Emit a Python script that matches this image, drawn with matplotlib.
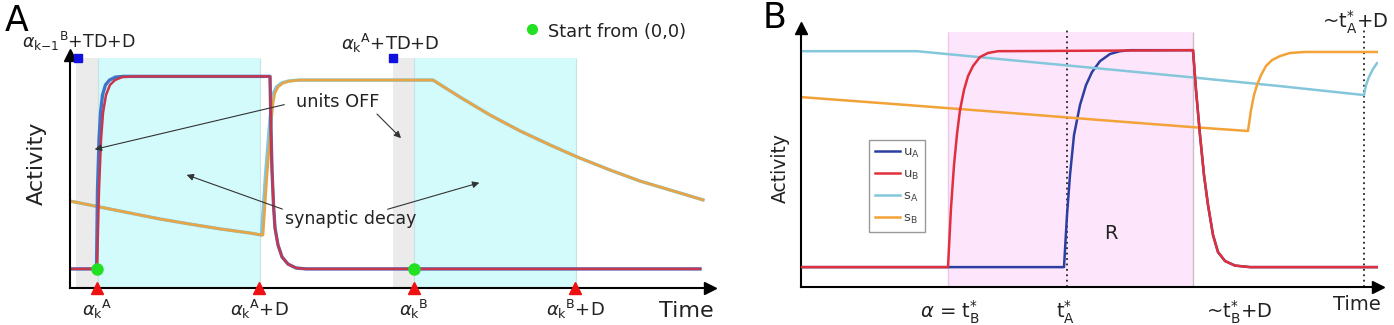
import matplotlib.pyplot as plt

plt.rcParams['font.family'] = ['DejaVu Sans']
plt.rcParams['mathtext.fontset'] = 'dejavusans'

# ---- panel A data (time in arbitrary units, activity 0..1) ----
a_red_t = [0, 27, 29, 31, 33, 36, 40, 45, 52, 65, 200, 201, 202, 203.5, 205, 208, 212, 218, 226, 236, 630]
a_red_y = [.083, .083, .426, .643, .761, .839, .883, .904, .917, .92, .92, .687, .513, .361, .261, .187,
           .135, .104, .087, .083, .083]
a_blue_t = [0, 26.5, 27.5, 29, 30.5, 32.5, 35.5, 39.5, 45.5, 53.5, 200, 201, 202, 203.5, 205, 208, 212, 218,
            226, 236, 630]
a_blue_y = a_red_y
a_orange_t = [0, 30, 60, 90, 120, 150, 180, 193, 195, 197, 199, 201, 203, 205, 208, 213, 220, 230,
              363, 390, 420, 450, 480, 507, 540, 570, 600, 633]
a_orange_y = [.378, .352, .326, .300, .278, .257, .239, .230, .361, .491, .600, .709, .804, .848, .874,
              .891, .900, .904, .904, .830, .752, .683, .622, .570, .513, .465, .426, .383]
a_cyan_t = [0, 30, 60, 90, 120, 150, 180, 191.5, 193.5, 195.5, 197.5, 199.5, 201.5, 203.5, 206.5, 211.5,
            218.5, 228.5, 363, 390, 420, 450, 480, 507, 540, 570, 600, 633]
a_cyan_y = a_orange_y

a_ticks = [27, 189, 344, 505]
a_tick_labels = [r'$\alpha_\mathrm{k}{}^\mathrm{A}$', r'$\alpha_\mathrm{k}{}^\mathrm{A}$+D',
                 r'$\alpha_\mathrm{k}{}^\mathrm{B}$', r'$\alpha_\mathrm{k}{}^\mathrm{B}$+D']
a_gray = [(6, 27.5), (323, 344)]
a_cyan_band = [(27.5, 190), (344, 506)]
a_start_t = [27, 344]
a_start_y = [.083, .083]
a_off_t = [8, 323]

# ---- panel B data ----
b_ua_t = [0, 263, 266, 269, 273, 279, 285, 291, 299, 309, 319, 329, 392, 395, 399, 403, 407, 412, 417,
          424, 434, 449, 576]
b_ua_y = [.078, .078, .282, .439, .596, .714, .792, .843, .886, .914, .925, .929, .929, .773, .596, .439,
          .322, .204, .137, .102, .084, .078, .078]
b_ub_t = [0, 147, 150, 153, 156, 159, 163, 167, 172, 179, 187, 197, 392, 395, 399, 403, 407, 412, 417,
          424, 434, 449, 576]
b_ub_y = [.078, .078, .310, .478, .600, .694, .773, .827, .867, .902, .918, .925, .929, .773, .596, .439,
          .322, .204, .137, .102, .084, .078, .078]
b_sa_t = [0, 116, 199, 299, 392, 479, 563, 565, 568, 572, 576]
b_sa_y = [.925, .925, .894, .857, .822, .788, .753, .792, .824, .855, .878]
b_sb_t = [0, 99, 199, 299, 392, 447, 450, 453, 456, 460, 465, 471, 479, 489, 504, 576]
b_sb_y = [.745, .716, .686, .655, .627, .612, .694, .753, .792, .831, .867, .890, .906, .918, .922, .922]

b_ticks = [149, 265, 438]
b_tick_labels = [r'$\alpha$ = t$_\mathrm{B}^{*}$', r't$_\mathrm{A}^{*}$', r'~t$_\mathrm{B}^{*}$+D']
b_band = (147, 392)
b_dotted = [266, 563]

txt = '#222222'

fig = plt.figure(figsize=(13.94, 3.25), dpi=100)
axA = fig.add_axes([70 / 1394, 37 / 325, 640 / 1394, 233 / 325])
axB = fig.add_axes([801 / 1394, 38 / 325, 577 / 1394, 259 / 325])

for ax in (axA, axB):
    for s in ('top', 'right'):
        ax.spines[s].set_visible(False)
    ax.spines['left'].set_linewidth(1.5)
    ax.spines['bottom'].set_linewidth(1.5)
    ax.set_yticks([])
    ax.tick_params(axis='x', length=0, colors=txt)
    ax.plot(1, 0, '>k', ms=8, transform=ax.transAxes, clip_on=False)
    ax.plot(0, 1, '^k', ms=8, transform=ax.transAxes, clip_on=False)

# ---------------- panel A ----------------
axA.set_xlim(0, 640)
axA.set_ylim(0, 1.013)
for a, b in a_gray:
    axA.fill_between([a, b], 0, 1.0, color='#ebebeb', lw=0)
for a, b in a_cyan_band:
    axA.fill_between([a, b], 0, 1.0, color='#d3fbfb', lw=0)
    axA.vlines([a, b], 0, 1.0, color='#c6e4e4', lw=0.8)

axA.plot(a_cyan_t, a_cyan_y, color='#7cc8e0', lw=2.4)
axA.plot(a_orange_t, a_orange_y, color='#e8a445', lw=1.9)
axA.plot(a_blue_t, a_blue_y, color='#3f74c8', lw=2.4)
axA.plot(a_red_t, a_red_y, color='#c8364e', lw=1.8)

axA.plot(a_start_t, a_start_y, 'o', color='#22e022', ms=8, zorder=5)
axA.plot(a_off_t, [1.0, 1.0], 's', color='#1010e0', ms=6, clip_on=False, zorder=5)
axA.plot(a_ticks, [0] * len(a_ticks), '^', color='#ee1111', ms=9, clip_on=False, zorder=5)

axA.set_xticks(a_ticks, a_tick_labels, fontsize=13)
axA.tick_params(axis='x', pad=7)
axA.set_ylabel('Activity', fontsize=16, color=txt)
axA.yaxis.set_label_coords(-0.036, 0.536)
axA.text(616, -0.1, 'Time', fontsize=16, color=txt, ha='center', va='center')

axA.text(9, 1.07, r'$\alpha_\mathrm{k{-}1}{}^\mathrm{B}$+TD+D', fontsize=12.5, color=txt, ha='center',
         va='center', clip_on=False)
axA.text(320, 1.065, r'$\alpha_\mathrm{k}{}^\mathrm{A}$+TD+D', fontsize=13, color=txt, ha='center',
         va='center', clip_on=False)
axA.plot(462, 1.126, 'o', color='#22e022', ms=7, clip_on=False)
axA.text(478, 1.113, 'Start from (0,0)', fontsize=12.8, color=txt, ha='left', va='center')

arr = dict(arrowstyle='-|>', color='#333333', lw=0.8, mutation_scale=10)
axA.text(226, .809, 'units OFF', fontsize=12.8, color=txt, ha='left', va='center')
axA.annotate('', xy=(22, .6), xytext=(217, .8), arrowprops=arr)
axA.annotate('', xy=(333, .643), xytext=(305, .765), arrowprops=arr)
axA.text(215, .30, 'synaptic decay', fontsize=12.5, color=txt, ha='left', va='center')
axA.annotate('', xy=(114, .496), xytext=(215, .339), arrowprops=arr)
axA.annotate('', xy=(412, .461), xytext=(315, .339), arrowprops=arr)

# ---------------- panel B ----------------
axB.set_xlim(0, 577)
axB.set_ylim(0, 1.016)
axB.fill_between(b_band, 0, 1.0, color='#fde6fc', lw=0)
axB.vlines(b_band, 0, 1.0, color=['#ecc8ea', '#c8c0c8'], lw=1)
axB.vlines(b_dotted, 0, 1.008, color='#222222', lw=1.3, linestyles=(0, (1, 2)))

axB.plot(b_ua_t, b_ua_y, color='#2c3fa0', lw=1.8, label=r'u$_\mathrm{A}$')
axB.plot(b_ub_t, b_ub_y, color='#e0303e', lw=1.8, label=r'u$_\mathrm{B}$', zorder=3)
axB.plot(b_sa_t, b_sa_y, color='#84c6da', lw=1.8, label=r's$_\mathrm{A}$')
axB.plot(b_sb_t, b_sb_y, color='#f2a236', lw=1.8, label=r's$_\mathrm{B}$')

leg = axB.legend(loc='upper left', bbox_to_anchor=(0.118, 0.568), borderaxespad=0, fontsize=9.5,
                 handlelength=1.9, labelspacing=0.6, fancybox=False, edgecolor='#999999',
                 framealpha=1, handletextpad=0.2, borderpad=0.45)
for t in leg.get_texts():
    t.set_color('#444444')

axB.set_xticks(b_ticks, b_tick_labels, fontsize=14)
axB.tick_params(axis='x', pad=8)
axB.set_ylabel('Activity', fontsize=13.5, color=txt)
axB.yaxis.set_label_coords(-0.019, 0.459)
axB.text(556, -0.067, 'Time', fontsize=14, color=txt, ha='center', va='center')
axB.text(554, 1.039, r'~t$_\mathrm{A}^{*}$+D', fontsize=14, color=txt, ha='center', va='center',
         clip_on=False)
axB.text(310, .208, 'R', fontsize=14, color=txt, ha='center', va='center')

fig.text(5 / 1394, 1 - 21 / 325, 'A', fontsize=25, color='black', ha='left', va='center')
fig.text(763 / 1394, 1 - 18 / 325, 'B', fontsize=25, color='black', ha='left', va='center')

fig.savefig('out.png', dpi=100)
